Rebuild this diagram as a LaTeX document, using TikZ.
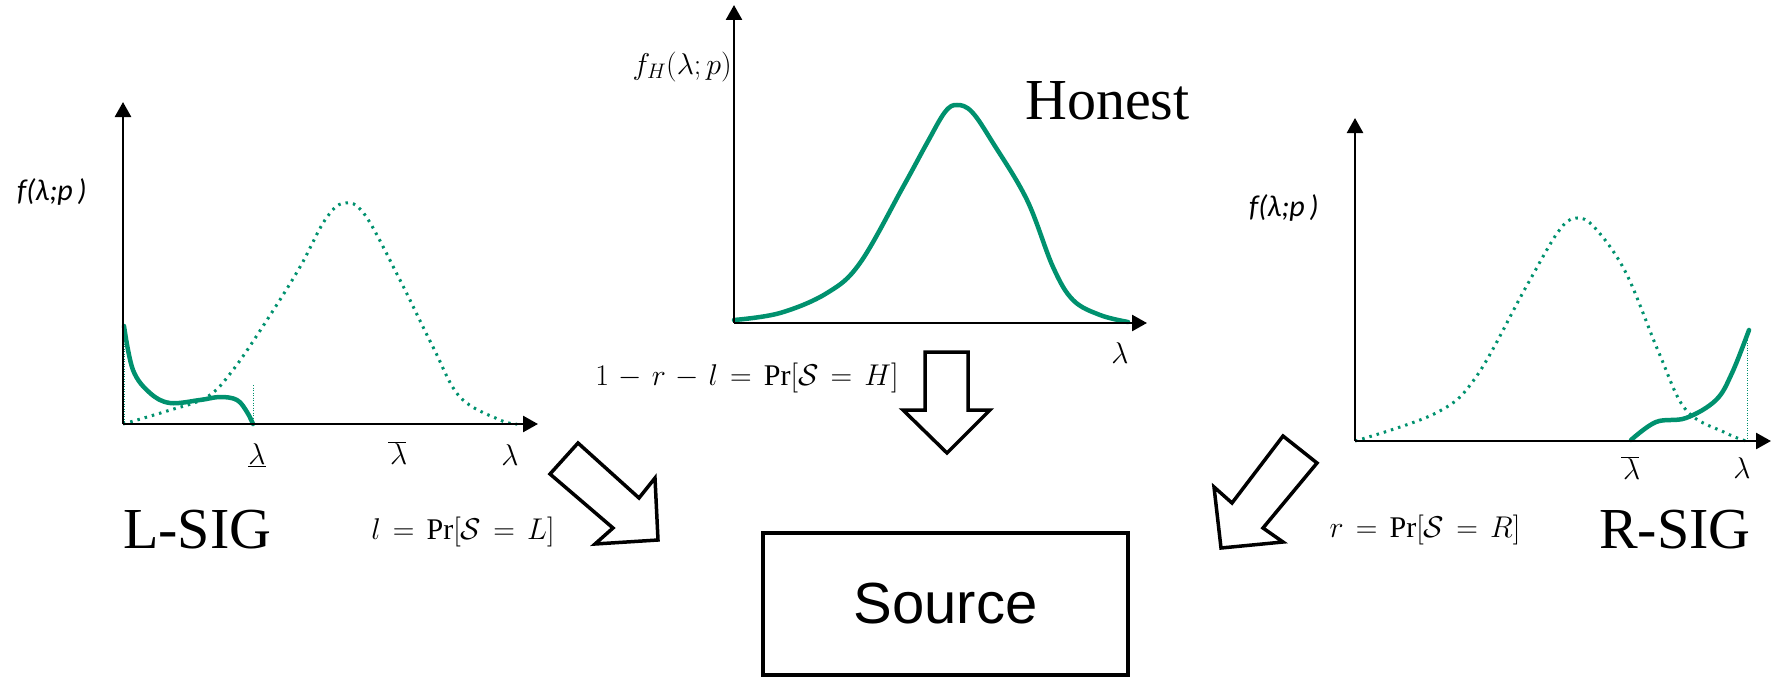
\RequirePackage{fix-cm}
\documentclass[tikz,border=0pt]{standalone}
\usepackage{fontspec}
\setmainfont{Liberation Serif}
\newfontfamily\arialfont{Liberation Sans}
\newfontfamily\calfont{Carlito}
\usetikzlibrary{arrows.meta}
\definecolor{cgreen}{RGB}{0,145,110}
\newcommand{\wideeq}{\medmuskip=5.8mu plus 2mu minus 2mu\thickmuskip=7.3mu plus 3mu}
\newcommand{\barlam}{\overline{\mkern1mu\lambda\mkern-1mu}}
\tikzset{
  axisline/.style={line width=2.6pt, -{Triangle[length=15pt,width=16pt]}},
  pdfsolid/.style={cgreen, line width=4.5pt, line cap=round},
  pdfdot/.style={cgreen, line width=3pt, dash pattern=on 2.5pt off 5pt},
  guide/.style={cgreen, line width=1pt, dash pattern=on 1pt off 1.5pt},
  blockarrow/.style={draw=black, line width=3.5pt, fill=white, line join=miter},
  biglabel/.style={font=\fontsize{58}{60}\selectfont, inner sep=0pt},
  eqlabel/.style={font=\fontsize{30}{34}\selectfont\wideeq, inner sep=0pt},
  axlabel/.style={font=\fontsize{30}{34}\selectfont, inner sep=0pt},
  flabel/.style={font=\calfont\itshape\fontsize{30}{34}\selectfont, inner sep=0pt},
  srcbox/.style={draw=black, line width=4pt, minimum width=365pt, minimum height=142pt,
    inner sep=0pt, font=\arialfont\fontsize{58}{60}\selectfont},
}
\begin{document}
\begin{tikzpicture}[x=1pt,y=-1pt]
\useasboundingbox (0,0) rectangle (1779,677);

% ---------- left panel (L-SIG) ----------
\coordinate (lo) at (123,424);
\coordinate (ly) at (123,102);
\coordinate (lx) at (538,424);
\draw[guide] (124,326) -- (124,424);
\draw[guide] (253,385) -- (253,424);
\draw[pdfdot] plot[smooth, tension=0.6] coordinates {(123,424) (167,411) (207,397) (233,370) (267,320) (300,267) (325,220) (344,203) (365,215) (400,280) (433,347) (460,397) (500,420) (517,424)};
\draw[pdfsolid] plot[smooth, tension=0.6] coordinates {(124,326) (133,370) (150,393) (170,403) (200,400) (220,397) (237,400) (247,412) (253,424)};
\draw[axisline] (lo) -- (ly);
\draw[axisline] (lo) -- (lx);
\node[flabel] (lf) at (52,192) {f(λ;p\,)};
\node[axlabel] (llow) at (257,455) {$\underline{\lambda}$};
\node[axlabel] (lbar) at (397,453) {$\barlam$};
\node[axlabel] (llam) at (510,455) {$\lambda$};
\node[biglabel, anchor=base west] (lsig) at (123,548) {L-SIG};
\node[eqlabel] (leq) at (463,532) {$l = \mathrm{Pr}[\mathcal{S} = L]$};

% ---------- middle panel (Honest) ----------
\coordinate (mo) at (734,323);
\coordinate (my) at (734,5);
\coordinate (mx) at (1147,323);
\draw[pdfsolid] plot[smooth, tension=0.6] coordinates {(734,320) (780,313) (827,293) (860,263) (903,187) (927,143) (945,112) (957,105) (972,112) (993,143) (1027,200) (1053,267) (1073,300) (1100,315) (1128,322)};
\draw[axisline] (mo) -- (my);
\draw[axisline] (mo) -- (mx);
\node[font=\fontsize{30}{34}\selectfont, inner sep=0pt, anchor=east] (mf) at (732,67) {$f_H(\lambda;p)$};
\node[axlabel] (mlam) at (1120,353) {$\lambda$};
\node[biglabel, anchor=base west] (hon) at (1025,119) {Honest};
\node[eqlabel] (meq) at (747,378) {$1 - r - l = \mathrm{Pr}[\mathcal{S} = H]$};

% ---------- right panel (R-SIG) ----------
\coordinate (ro) at (1355,441);
\coordinate (ry) at (1355,118);
\coordinate (rx) at (1771,441);
\draw[guide] (1747,330) -- (1747,441);
\draw[pdfdot] plot[smooth, tension=0.6] coordinates {(1355,441) (1436,413) (1476,377) (1526,287) (1558,232) (1576,218) (1595,228) (1626,273) (1659,353) (1686,410) (1726,433) (1746,441)};
\draw[pdfsolid] plot[smooth, tension=0.6] coordinates {(1631,440) (1656,422) (1686,418) (1716,400) (1732,373) (1749,330)};
\draw[axisline] (ro) -- (ry);
\draw[axisline] (ro) -- (rx);
\node[flabel] (rf) at (1284,208) {f(λ;p\,)};
\node[axlabel] (rbar) at (1630,468) {$\barlam$};
\node[axlabel] (rlam) at (1742,468) {$\lambda$};
\node[biglabel, anchor=base west] (rsig) at (1599,548) {R-SIG};
\node[eqlabel] (req) at (1425,530) {$r = \mathrm{Pr}[\mathcal{S} = R]$};

% ---------- block arrows ----------
\draw[blockarrow] (578,443) -- (639,498) -- (655,478) -- (658,540) -- (595,544) -- (613,528) -- (550,474) -- cycle;
\draw[blockarrow] (925,352) -- (968,352) -- (968,410) -- (990,410) -- (947,453) -- (903,410) -- (925,410) -- cycle;
\draw[blockarrow] (1283,436) -- (1317,463) -- (1263,528) -- (1283,542) -- (1221,548) -- (1214,487) -- (1232,503) -- cycle;

% ---------- source ----------
\node[srcbox] (src) at (945.5,604) {Source};
\end{tikzpicture}
\end{document}
